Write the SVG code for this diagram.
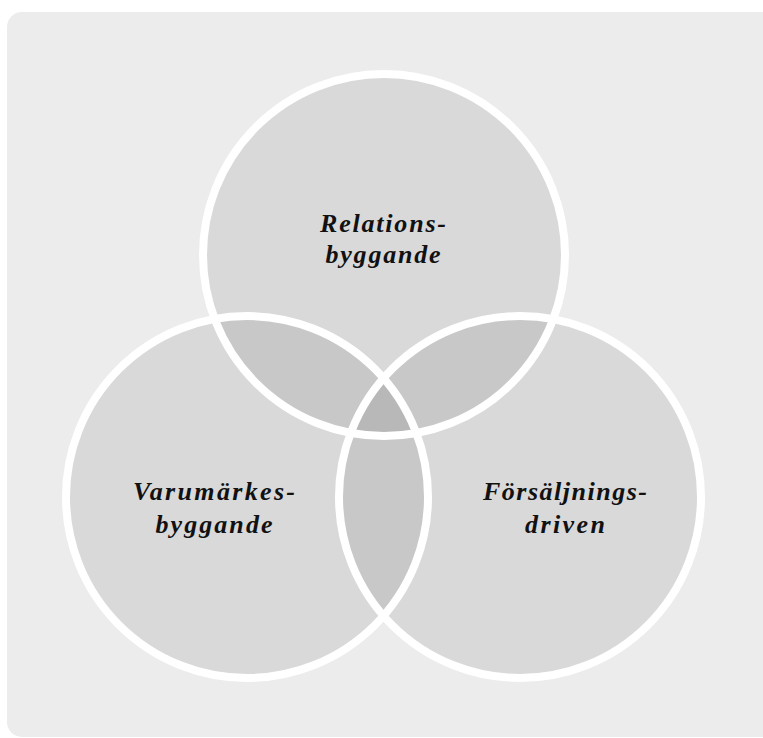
<svg xmlns="http://www.w3.org/2000/svg" width="763" height="738" viewBox="0 0 763 738">
<style>
.bg{fill:#ececec}
.fillc{fill:#000;fill-opacity:0.08}
.ring{fill:none;stroke:#fff;stroke-width:8}
.lbl{font-family:"Liberation Serif","Times New Roman",serif;font-style:italic;font-weight:bold;font-size:26px;fill:#111;text-anchor:middle}
</style>
<rect class="bg" x="7" y="12" width="780" height="725" rx="15" ry="15"/>
<g id="relationsbyggande">
<circle class="fillc" cx="384" cy="255" r="181"/>
</g>
<g id="varumarkesbyggande">
<circle class="fillc" cx="247" cy="497" r="181"/>
</g>
<g id="forsaljningsdriven">
<circle class="fillc" cx="520" cy="497" r="181"/>
</g>
<g id="outlines">
<circle class="ring" cx="384" cy="255" r="181"/>
<circle class="ring" cx="247" cy="497" r="181"/>
<circle class="ring" cx="520" cy="497" r="181"/>
</g>
<g id="labels">
<text class="lbl" x="383" y="232" textLength="126" lengthAdjust="spacing">Relations-</text>
<text class="lbl" x="383" y="263" textLength="115" lengthAdjust="spacing">byggande</text>
<text class="lbl" x="214" y="500" textLength="162" lengthAdjust="spacing">Varumärkes-</text>
<text class="lbl" x="214" y="533" textLength="117" lengthAdjust="spacing">byggande</text>
<text class="lbl" x="565" y="500" textLength="164" lengthAdjust="spacing">Försäljnings-</text>
<text class="lbl" x="565" y="533" textLength="80" lengthAdjust="spacing">driven</text>
</g>
</svg>
